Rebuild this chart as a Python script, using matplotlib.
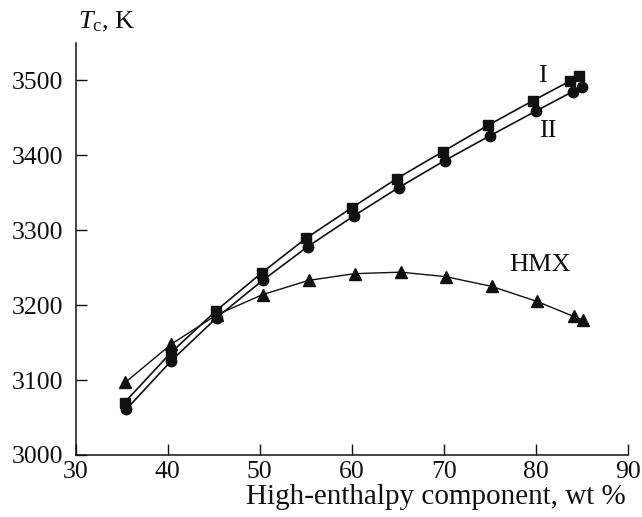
import matplotlib
matplotlib.use("Agg")
from matplotlib import pylab as plt

# Data: adiabatic combustion temperature vs. content
xI = [35.3, 40.3, 45.2, 50.2, 55.0, 60.0, 64.9, 69.9, 74.8, 79.7, 83.7, 84.7]
tI = [3070, 3136, 3192, 3243, 3289, 3330, 3369, 3405, 3440, 3473, 3499, 3506]

xII = [35.5, 40.4, 45.3, 50.3, 55.2, 60.2, 65.1, 70.1, 75.0, 80.0, 84.0, 85.0]
tII = [3061, 3126, 3183, 3233, 3278, 3319, 3357, 3393, 3426, 3459, 3485, 3491]

xHMX = [35.4, 40.4, 45.3, 50.3, 55.3, 60.3, 65.3, 70.2, 75.2, 80.1, 84.1, 85.1]
tHMX = [3097, 3148, 3187, 3214, 3233, 3242, 3244, 3238, 3225, 3205, 3185, 3180]

xticks = [30, 40, 50, 60, 70, 80, 90]
yticks = [3000, 3100, 3200, 3300, 3400, 3500]

plt.rcParams["font.family"] = ["Liberation Serif", "DejaVu Serif"]
plt.rcParams["mathtext.fontset"] = "custom"
plt.rcParams["mathtext.rm"] = "Liberation Serif"
plt.rcParams["mathtext.it"] = "Liberation Serif:italic"

fig = plt.figure(figsize=(6.42, 5.17), dpi=100)
ax = fig.add_axes([0.118, 0.12, 0.860, 0.797])

ink = "#111111"
ax.plot(xI, tI, "-s", color=ink, lw=1.2, ms=7)
ax.plot(xII, tII, "-o", color=ink, lw=1.2, ms=7.5)
ax.plot(xHMX, tHMX, "-^", color=ink, lw=1.0, ms=8)

ax.set_xlim(30, 90)
ax.set_ylim(3000, 3550)
ax.set_xticks(xticks)
ax.set_yticks(yticks)
ax.tick_params(direction="in", length=8, width=1, labelsize=18.5, colors=ink)
ax.tick_params(axis="y", pad=9)
ax.tick_params(axis="x", pad=4)
for side in ["top", "right"]:
    ax.spines[side].set_visible(False)
for side in ["left", "bottom"]:
    ax.spines[side].set_linewidth(1.1)
    ax.spines[side].set_color(ink)

ax.text(80.7, 3506, "I", fontsize=19, color=ink, ha="center", va="center")
ax.text(81.3, 3432, "II", fontsize=19, color=ink, ha="center", va="center")
ax.text(80.4, 3254, "HMX", fontsize=19, color=ink, ha="center", va="center")

fig.text(0.121, 0.957, "$T_\\mathrm{c}$, K", fontsize=19, color=ink, ha="left", va="center")
fig.text(0.975, 0.038, "High-enthalpy component, wt %", fontsize=21, color=ink,
         ha="right", va="center")

fig.savefig("out.png", dpi=100)
